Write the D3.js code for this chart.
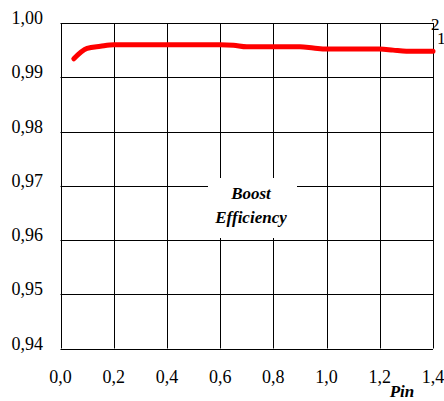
<!DOCTYPE html>
<html><head><meta charset="utf-8">
<script src="https://cdn.jsdelivr.net/npm/d3@7"></script>
</head>
<body style="margin:0;background:#fff"><svg id="c" width="444" height="401" style="font-family:'Liberation Serif',serif"></svg>
<script>
const pin = [0.05,0.1,0.15,0.2,0.3,0.4,0.5,0.6,0.65,0.7,0.8,0.9,0.95,1.0,1.1,1.2,1.25,1.3,1.4];
const efficiency = [0.9934,0.9953,0.9957,0.9960,0.9960,0.9960,0.9960,0.9960,0.9959,0.9956,0.9956,0.9956,0.9954,0.9952,0.9952,0.9952,0.9950,0.9948,0.9948];
const xTicks = [0,0.2,0.4,0.6,0.8,1.0,1.2,1.4];
const yTicks = [0.94,0.95,0.96,0.97,0.98,0.99,1.00];
const title = ["Boost","Efficiency"];
const xTitle = "Pin";
const cornerLabels = ["2","1"];

const svg = d3.select("#c");
const L=60.5, R=433, T=23, B=348.5;
const x = d3.scaleLinear().domain([0,1.4]).range([L,R]);
const y = d3.scaleLinear().domain([0.94,1.00]).range([B,T]);
const fmt = d => d3.format(".1f")(d).replace(".",",");
const fmtY = d => d3.format(".2f")(d).replace(".",",");

const g = svg.append("g");
g.selectAll(".vx").data(xTicks).join("line")
  .attr("x1",d=>Math.round(x(d))+0.5).attr("x2",d=>Math.round(x(d))+0.5)
  .attr("y1",T).attr("y2",B).attr("stroke","#000").attr("stroke-width",1);
g.selectAll(".hy").data(yTicks).join("line")
  .attr("y1",d=>Math.round(y(d))+0.5).attr("y2",d=>Math.round(y(d))+0.5)
  .attr("x1",L).attr("x2",R).attr("stroke","#000").attr("stroke-width",1);

const txt = sel => sel.style("font-family","'Liberation Serif', serif");

svg.selectAll(".yl").data(yTicks).join("text").call(txt)
  .attr("x",43).attr("y",d=>y(d)+1).attr("text-anchor","end")
  .style("font-size","18px").text(fmtY);
svg.selectAll(".xl").data(xTicks).join("text").call(txt)
  .attr("x",d=>x(d)).attr("y",383).attr("text-anchor","middle")
  .style("font-size","18px").text(fmt);
svg.append("text").call(txt).attr("x",402).attr("y",397).attr("text-anchor","middle")
  .style("font-size","17px").style("font-weight","bold").style("font-style","italic").text(xTitle);

svg.append("rect").attr("x",208).attr("y",178).attr("width",89).attr("height",60).attr("fill","#fff");
svg.selectAll(".tt").data(title).join("text").call(txt)
  .attr("x",251).attr("y",(d,i)=>199+i*24).attr("text-anchor","middle")
  .style("font-size","17px").style("font-weight","bold").style("font-style","italic").text(d=>d);

const line = d3.line().x((d,i)=>x(pin[i])).y(d=>y(d)).curve(d3.curveMonotoneX);
svg.append("path").datum(efficiency).attr("d",line).attr("fill","none")
  .attr("stroke","#ff0000").attr("stroke-width",5).attr("stroke-linejoin","round").attr("stroke-linecap","round");

svg.append("text").call(txt).attr("x",431).attr("y",30).style("font-size","17px").text(cornerLabels[0]);
svg.append("text").call(txt).attr("x",437).attr("y",44).style("font-size","17px").text(cornerLabels[1]);
</script></body></html>
